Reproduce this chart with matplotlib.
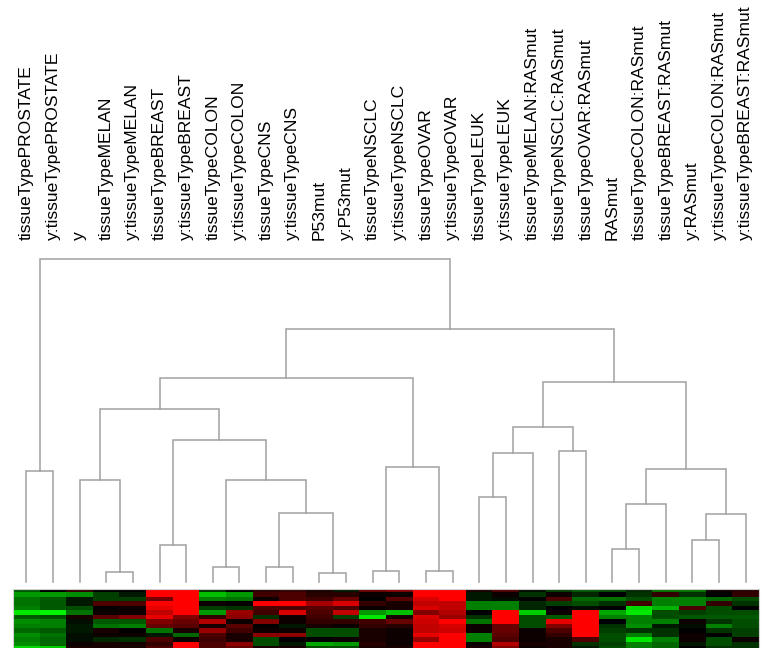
import numpy as np
import matplotlib
matplotlib.use("Agg")
import matplotlib.pyplot as plt
from matplotlib.colors import LinearSegmentedColormap

# ========================
# Data
# ========================
labels = ["tissueTypePROSTATE", "y:tissueTypePROSTATE", "y",
          "tissueTypeMELAN", "y:tissueTypeMELAN",
          "tissueTypeBREAST", "y:tissueTypeBREAST",
          "tissueTypeCOLON", "y:tissueTypeCOLON",
          "tissueTypeCNS", "y:tissueTypeCNS",
          "P53mut", "y:P53mut",
          "tissueTypeNSCLC", "y:tissueTypeNSCLC",
          "tissueTypeOVAR", "y:tissueTypeOVAR",
          "tissueTypeLEUK", "y:tissueTypeLEUK",
          "tissueTypeMELAN:RASmut", "tissueTypeNSCLC:RASmut", "tissueTypeOVAR:RASmut",
          "RASmut", "tissueTypeCOLON:RASmut", "tissueTypeBREAST:RASmut",
          "y:RASmut", "y:tissueTypeCOLON:RASmut", "y:tissueTypeBREAST:RASmut"]

# merges: (left child, right child, height); new clusters numbered from 28
mergeLeft   = [0, 3, 2, 5, 7, 9, 11, 33, 32, 31, 30, 13, 15, 39, 38,
               17, 43, 20, 44, 22, 47, 25, 49, 48, 46, 42, 28]
mergeRight  = [1, 4, 29, 6, 8, 10, 12, 34, 35, 36, 37, 14, 16, 40, 41,
               18, 19, 21, 45, 23, 24, 26, 27, 50, 51, 52, 53]
mergeHeight = [111, 10, 102, 37, 15, 15, 9, 69, 102, 142, 173, 11, 11, 115, 204,
               85, 129, 131, 155, 33, 78, 42, 68, 113, 200, 253, 323]

# heatmap values, one list per column (top row first), red > 0, green < 0
col00 = [-0.35, -0.6, -0.45, -0.45, -0.5, -0.9, -0.35, -0.55, -0.5, -0.4, -0.55, -0.5, -0.55, -0.85]
col01 = [0.0, -0.6, -0.35, -0.35, -0.35, -0.95, -0.3, -0.5, -0.5, -0.35, -0.45, -0.4, -0.4, -0.8]
col02 = [0.2, -0.55, -0.1, -0.1, -0.3, -0.45, 0.1, -0.05, -0.1, -0.1, -0.05, -0.05, 0.05, 0.1]
col03 = [0.0, -0.25, -0.25, 0.3, 0.02, 0.05, 0.35, -0.35, -0.45, 0.1, 0.05, -0.15, 0.1, 0.1]
col04 = [0.0, -0.1, -0.25, 0.3, 0.05, 0.05, 0.5, -0.35, -0.5, 0.02, 0.05, -0.2, 0.1, 0.1]
col05 = [1.0, 1.0, 0.45, 1.0, 0.9, 0.75, 0.9, 0.5, 0.4, -0.45, -0.1, 0.3, 0.2, 0.3]
col06 = [1.0, 1.0, 1.0, 1.0, 1.0, 1.0, 0.5, 0.4, 0.35, 0.1, -0.4, 0.05, 1.0, 1.0]
col07 = [-0.2, -0.75, -0.5, 0.05, -0.25, -0.6, 0.2, 0.7, 0.1, 0.6, 0.3, 0.25, 0.3, 0.3]
col08 = [0.0, -0.6, -0.45, 0.02, -0.2, 0.6, 0.55, 0.05, 0.35, 0.25, 0.1, 0.1, 0.55, 0.4]
col09 = [0.15, 0.25, 0.05, 1.0, 0.3, 0.25, -0.2, 0.5, 0.0, 0.05, 0.55, -0.3, -0.3, 0.1]
col10 = [0.2, 0.3, 0.3, 1.0, 0.3, 0.85, 0.05, 0.05, -0.1, 0.05, 0.55, 0.0, -0.1, 0.1]
col11 = [0.1, 0.15, 0.25, 0.65, 0.35, 0.3, 0.25, 0.2, 0.1, -0.3, -0.3, 0.0, -0.65, -0.3]
col12 = [-0.1, 0.15, 0.4, 0.85, 0.3, 0.75, -0.25, 0.2, 0.05, -0.3, -0.3, 0.05, -0.6, -0.3]
col13 = [0.4, 0.05, 0.0, 0.2, 0.05, -0.6, -0.9, 0.25, 0.2, 0.1, 0.1, 0.1, 0.15, 0.1]
col14 = [0.5, 0.05, 0.35, 0.1, 0.1, -0.75, 0.1, 0.4, 0.15, 0.05, 0.05, 0.05, 0.05, 0.1]
col15 = [1.0, 1.0, 0.85, 0.75, 0.85, 0.5, 0.85, 0.8, 0.75, 0.75, 0.9, 0.6, 1.0, 1.0]
col16 = [1.0, 1.0, 1.0, 0.75, 0.75, 0.7, 0.6, 1.0, 0.85, 0.8, 1.0, 1.0, 1.0, 1.0]
col17 = [0.1, -0.1, -0.1, -0.5, -0.5, 0.0, -0.2, -0.45, 0.05, 0.05, -0.5, -0.5, 0.05, 0.1]
col18 = [0.3, 0.05, -0.05, -0.5, -0.5, 1.0, 1.0, 1.0, 0.4, 0.4, 0.35, 0.3, 0.7, 0.5]
col19 = [-0.05, -0.2, 0.0, -0.15, -0.15, -0.8, -0.3, -0.3, -0.3, 0.05, 0.05, 0.05, 0.1, 0.05]
col20 = [-0.25, 0.05, 0.3, -0.25, 0.0, 0.05, -0.35, 0.9, 0.5, 0.3, 0.2, 0.1, 0.1, 0.1]
col21 = [-0.35, -0.15, -0.4, -0.3, -0.05, 1.0, 1.0, 1.0, 1.0, 1.0, 1.0, 0.3, -0.2, -0.1]
col22 = [-0.3, 0.0, -0.45, -0.2, 0.0, -0.65, -0.5, 0.0, -0.2, -0.25, -0.3, -0.3, -0.25, -0.3]
col23 = [-0.15, -0.2, -0.3, 0.25, -0.85, -0.9, -0.5, -0.5, -0.55, -0.2, -0.5, -0.9, -0.5, -0.5]
col24 = [-0.45, 0.2, -0.5, -0.5, -0.7, -0.3, -0.3, -0.5, -0.1, -0.2, -0.2, -0.5, -0.4, -0.4]
col25 = [-0.45, -0.2, -0.5, -0.5, 0.3, -0.25, -0.35, 0.05, -0.05, 0.0, 0.05, 0.05, -0.1, 0.0]
col26 = [0.05, 0.0, -0.4, 0.2, -0.3, -0.3, -0.35, -0.2, -0.5, -0.2, 0.0, -0.3, -0.3, -0.2]
col27 = [0.15, 0.2, -0.3, -0.2, 0.0, -0.3, -0.35, -0.3, -0.3, -0.25, -0.25, 0.05, -0.2, -0.2]

heatCols = [col00, col01, col02, col03, col04, col05, col06, col07, col08, col09,
            col10, col11, col12, col13, col14, col15, col16, col17, col18, col19,
            col20, col21, col22, col23, col24, col25, col26, col27]

# ========================
# Figure
# ========================
W, H = 765, 648
fig = plt.figure(figsize=(W / 100, H / 100), dpi=100)
lineCol = '#a0a0a0'
nLeaf = len(labels)

# dendrogram
axD = fig.add_axes([13 / W, (H - 582) / H, 746 / W, (582 - 259) / H])
xs = {i: i + 0.5 for i in range(nLeaf)}
hs = {i: 0.0 for i in range(nLeaf)}
for k, (a, b, h) in enumerate(zip(mergeLeft, mergeRight, mergeHeight)):
    xa, xb = xs[a], xs[b]
    axD.plot([xa, xa, xb, xb], [hs[a], h, h, hs[b]], color=lineCol, lw=1.1,
             clip_on=False, solid_joinstyle='miter')
    xs[nLeaf + k] = (xa + xb) / 2
    hs[nLeaf + k] = h
axD.set_xlim(0, nLeaf)
axD.set_ylim(0, max(mergeHeight))
axD.axis('off')
for i, lab in enumerate(labels):
    axD.text(i + 0.5, max(mergeHeight) + 19, lab, rotation=90, ha='center', va='bottom',
             fontsize=12.6, family='Liberation Sans', clip_on=False)

# heatmap
cmap = LinearSegmentedColormap.from_list('gr', [(0, 1, 0), (0, 0, 0), (1, 0, 0)])
mat = np.array(heatCols).T
nRow = mat.shape[0]
top = 589.3
rowH = 4.44
axH = fig.add_axes([13 / W, (H - top - nRow * rowH) / H, 746 / W, nRow * rowH / H])
axH.imshow(mat, cmap=cmap, vmin=-1, vmax=1, aspect='auto', interpolation='nearest')
axH.set_xticks([])
axH.set_yticks([])
for s in axH.spines.values():
    s.set_color('#d0d0d0')
    s.set_linewidth(0.8)

fig.savefig('out.png', dpi=100)
